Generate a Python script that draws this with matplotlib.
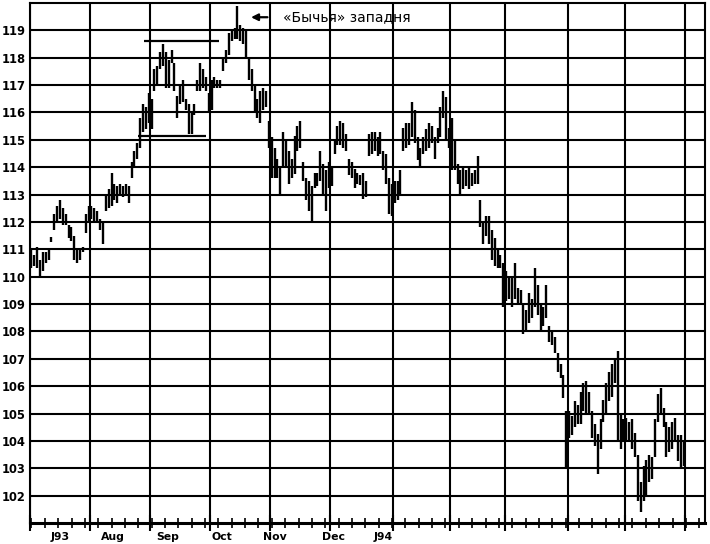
import numpy as np
import matplotlib.pyplot as plt
from matplotlib.transforms import blended_transform_factory

# daily high / low, July 1993 - May 1994 (one row per month)
high = [
    111.0, 110.8, 111.1, 110.6, 110.9, 110.9, 111.0, 111.45, 112.3, 112.6, 112.8, 112.5, 112.3, 111.9, 111.8, 111.5, 111.0, 111.0, 111.1, 112.3, 112.6,
    112.6, 112.5, 112.4, 112.1, 112.0, 113.0, 113.2, 113.8, 113.4, 113.3, 113.4, 113.3, 113.4, 113.3, 114.2, 114.6, 114.9, 115.8, 116.3, 116.2, 116.7,
    116.5, 117.6, 117.7, 118.2, 118.5, 118.2, 117.9, 118.3, 117.8, 116.6, 117.0, 117.2, 116.5, 116.3, 116.0, 116.3, 117.2, 117.8, 117.6, 117.3, 116.7,
    117.2, 117.3, 117.2, 117.2, 118.0, 118.3, 118.9, 119.0, 119.1, 119.9, 119.2, 119.1, 119.0, 118.0, 117.6, 117.0, 116.5, 116.8, 116.9, 116.8, 115.7,
    115.1, 114.7, 114.3, 114.0, 115.3, 115.0, 114.6, 114.3, 115.15, 115.5, 115.7, 114.2, 113.6, 113.5, 113.3, 113.8, 113.8, 114.6, 114.1, 113.9, 114.2,
    114.0, 115.0, 115.5, 115.7, 115.6, 115.2, 114.3, 114.2, 113.95, 113.8, 113.7, 113.8, 113.5, 115.2, 115.3, 115.3, 115.1, 115.3, 114.6, 114.5, 113.6, 113.4,
    113.5, 113.5, 113.9, 115.45, 115.6, 115.6, 116.4, 116.1, 115.1, 114.7, 115.1, 115.4, 115.6, 115.5, 115.1, 115.45, 116.2, 116.8, 116.55, 115.45,
    115.8, 115.0, 114.1, 113.9, 114.0, 113.9, 114.0, 113.8, 113.9, 114.4, 112.8, 112.0, 112.2, 112.2, 111.7, 111.4, 111.0, 110.8, 110.5,
    110.2, 110.0, 110.0, 110.5, 109.6, 109.5, 109.0, 108.8, 109.4, 109.2, 110.3, 109.7, 109.0, 108.9, 109.7, 108.2, 108.0, 107.8, 107.2, 106.8, 106.4, 105.1,
    105.1, 104.9, 105.45, 105.3, 105.8, 106.1, 106.2, 105.8, 105.1, 104.6, 104.25, 104.8, 105.5, 106.1, 106.5, 106.8, 107.0, 107.3, 105.0, 104.8,
    104.85, 104.7, 104.8, 104.3, 103.5, 102.5, 103.1, 103.3, 103.5, 103.4, 104.8, 105.7, 105.95, 105.2, 104.7, 104.5, 104.7, 104.85, 104.2, 104.2, 104.0,
]
low = [
    110.3, 110.4, 110.3, 110.0, 110.2, 110.5, 110.6, 111.25, 111.7, 112.0, 112.1, 111.9, 111.9, 111.4, 111.3, 110.6, 110.5, 110.6, 110.9, 111.6, 112.0,
    112.1, 112.0, 112.0, 111.7, 111.2, 112.4, 112.5, 112.6, 112.8, 112.7, 113.0, 112.9, 113.0, 112.7, 113.6, 114.0, 114.3, 114.7, 115.3, 115.4, 115.6,
    115.4, 116.8, 117.0, 117.6, 117.7, 116.9, 116.9, 117.8, 116.8, 115.8, 116.3, 116.4, 116.1, 115.2, 115.2, 115.9, 116.8, 116.8, 116.9, 116.8, 116.0,
    116.1, 116.9, 116.9, 116.9, 117.5, 117.8, 118.1, 118.6, 118.7, 118.7, 118.6, 118.5, 118.0, 117.2, 116.8, 116.0, 115.8, 115.6, 116.1, 116.2, 114.7,
    113.6, 113.6, 113.6, 113.0, 114.0, 114.0, 113.4, 113.6, 113.75, 114.6, 114.7, 113.5, 112.8, 112.4, 112.0, 113.25, 113.3, 113.5, 113.0, 112.4, 113.25,
    113.3, 114.5, 114.8, 114.8, 114.7, 114.6, 113.7, 113.6, 113.25, 113.4, 113.35, 112.85, 112.9, 114.4, 114.5, 114.6, 114.4, 114.5, 113.9, 113.4, 112.3, 112.2,
    112.7, 112.8, 113.0, 114.6, 114.7, 114.8, 115.1, 114.9, 114.25, 114.05, 114.5, 114.6, 114.7, 114.9, 114.3, 114.9, 115.1, 115.8, 115.0, 114.7,
    113.9, 113.9, 113.4, 113.0, 113.2, 113.3, 113.2, 113.3, 113.4, 113.4, 111.8, 111.2, 111.5, 111.2, 110.6, 110.4, 110.3, 110.3, 108.9,
    109.1, 109.2, 108.9, 109.2, 109.0, 109.0, 107.9, 108.0, 108.3, 108.5, 108.9, 108.6, 108.0, 108.2, 108.5, 107.6, 107.5, 107.2, 106.5, 106.3, 105.55, 103.0,
    104.1, 104.2, 104.5, 104.6, 104.6, 105.1, 105.0, 105.0, 104.1, 103.8, 102.8, 103.7, 104.7, 105.0, 105.45, 105.6, 106.1, 104.0, 103.7, 104.0,
    104.0, 104.0, 103.7, 103.4, 101.8, 101.4, 101.8, 102.0, 102.5, 102.6, 103.4, 104.7, 105.0, 104.5, 103.4, 103.6, 103.7, 104.0, 103.25, 103.0, 103.1,
]

# trading days per month Jul'93 .. May'94
month_days = [21, 21, 21, 21, 21, 22, 20, 19, 22, 20, 21]
month_labels = ['J93', 'Aug', 'Sep', 'Oct', 'Nov', 'Dec', 'J94']
label_days = [10.5, 29, 48, 67, 85.7, 106, 123.4]

resist_level, resist_span = 118.6, (40, 66)
support_level, support_span = 115.15, (37.8, 61.5)
trap_day, trap_price = 76.3, 119.48
trap_text = '«Бычья» западня'

x = np.arange(len(high)) + 0.5
month_starts = np.concatenate([[0], np.cumsum(month_days)])

fig = plt.figure(figsize=(7.1, 5.44), dpi=100)
ax = fig.add_axes([30 / 710, 21 / 544, 675 / 710, 520 / 544])

ax.vlines(x, low, high, color='black', linewidth=1.7, zorder=3)

ax.hlines(resist_level, *resist_span, color='black', linewidth=1.6, zorder=3)
ax.hlines(support_level, *support_span, color='black', linewidth=1.6, zorder=3)

ax.annotate('', xy=(trap_day, trap_price), xytext=(trap_day + 7.7, trap_price),
            arrowprops=dict(arrowstyle='-|>', color='black', lw=1.6,
                            mutation_scale=10))
ax.text(trap_day + 12.2, trap_price, trap_text, fontsize=10,
        va='center', ha='left', color='black')

ax.set_xlim(0, 236)
ax.set_ylim(101, 120)

ax.set_yticks(np.arange(102, 120))
ax.set_yticklabels([str(v) for v in range(102, 120)], fontweight='bold', fontsize=8.3)
ax.tick_params(axis='y', length=0, pad=3)

ax.set_xticks(month_starts)
ax.set_xticklabels([])
ax.set_xticks(np.arange(0.5, 236, 4.67), minor=True)
ax.tick_params(axis='x', which='major', direction='inout', length=12, width=1.5)
ax.tick_params(axis='x', which='minor', direction='inout', length=7, width=1.2)

trans = blended_transform_factory(ax.transData, ax.transAxes)
for lab, d in zip(month_labels, label_days):
    ax.text(d, -0.027, lab, transform=trans, ha='center', va='center',
            fontsize=7.8, fontweight='bold')

ax.grid(True, which='major', color='black', linewidth=1.5)
ax.set_axisbelow(True)
for side in ['left', 'right', 'top']:
    ax.spines[side].set_linewidth(1.5)
ax.spines['bottom'].set_linewidth(2.2)

fig.savefig('out.png', dpi=100)
plt.close()
